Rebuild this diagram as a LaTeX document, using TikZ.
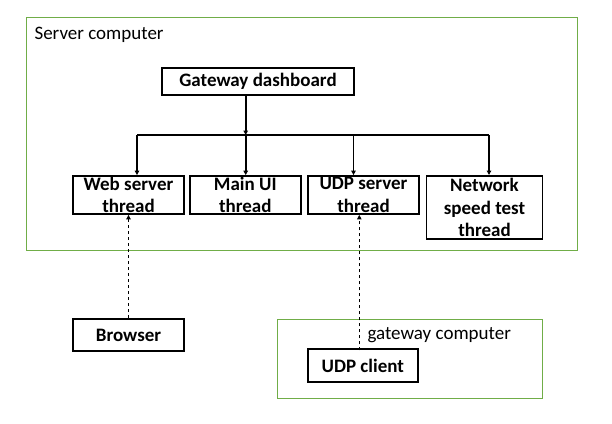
\documentclass[tikz,border=0pt]{standalone}
\usepackage{fontspec}
\setmainfont{Carlito}
\usetikzlibrary{arrows.meta, positioning}
\definecolor{host-green}{RGB}{112,173,71}

\tikzset{
  threadbox/.style={draw, line width=1.8pt, inner sep=0pt, align=center,
    font=\fontsize{19}{22.5}\selectfont\bfseries},
  hostframe/.style={draw=host-green, line width=1pt},
  link/.style={line width=1.7pt, -{Triangle[length=4.5pt,width=4.5pt]}},
  remote/.style={dash pattern=on 3.5pt off 2.5pt, line width=0.9pt, -{Triangle[length=4.5pt,width=4.5pt]}}
}

\begin{document}
\begin{tikzpicture}[x=1pt, y=-1pt]
  \useasboundingbox (0,0) rectangle (612,423);

  % Host frames
  \draw[hostframe] (26,17) rectangle (577,250);
  \node[anchor=west, font=\fontsize{19}{22}\selectfont] (srvlabel) at (31,35) {Server computer};
  \draw[hostframe] (277,319) rectangle (542,398);
  \node[anchor=west, font=\fontsize{19}{22}\selectfont] (gwlabel) at (364,335) {gateway computer};

  % Dashboard and threads
  \node[threadbox, minimum width=192pt, minimum height=27pt] (dash) at (258,81.5) {Gateway dashboard};
  \node[threadbox, minimum width=111pt, minimum height=38pt] (web) at (128.5,195) {Web server\\thread};
  \node[threadbox, minimum width=111pt, minimum height=38pt] (mainui) at (245.3,195) {Main UI\\thread};
  \node[threadbox, minimum width=111pt, minimum height=38pt] (udps) at (363.5,195) {UDP server\\thread};
  \node[threadbox, minimum width=116pt, minimum height=63pt] (net) at (484.5,207.4) {Network\\speed test\\thread};

  % Clients
  \node[threadbox, minimum width=111pt, minimum height=32pt] (browser) at (128.5,335) {Browser};
  \node[threadbox, minimum width=110pt, minimum height=33pt] (udpc) at (362.8,365.7) {UDP client};

  % Distribution bus
  \coordinate (busw) at (137,135);
  \coordinate (busm) at (245.7,135);
  \coordinate (busu) at (353.5,135);
  \coordinate (busn) at (489,135);
  \draw[line width=1.7pt] (busw) -- (busn);
  \draw[link] (dash.south -| busm) -- (busm);
  \draw[link] (busw) -- (busw |- web.north);
  \draw[link] (busm) -- (busm |- mainui.north);
  \draw[link] (busu) -- (busu |- udps.north);
  \draw[link] (busn) -- (busn |- net.north);

  % Remote links
  \coordinate (udplink) at (359.3,0);
  \draw[remote] (browser.north) -- (web.south);
  \draw[remote] ([yshift=-2pt]udplink |- udpc.north) -- (udplink |- udps.south);
\end{tikzpicture}
\end{document}
